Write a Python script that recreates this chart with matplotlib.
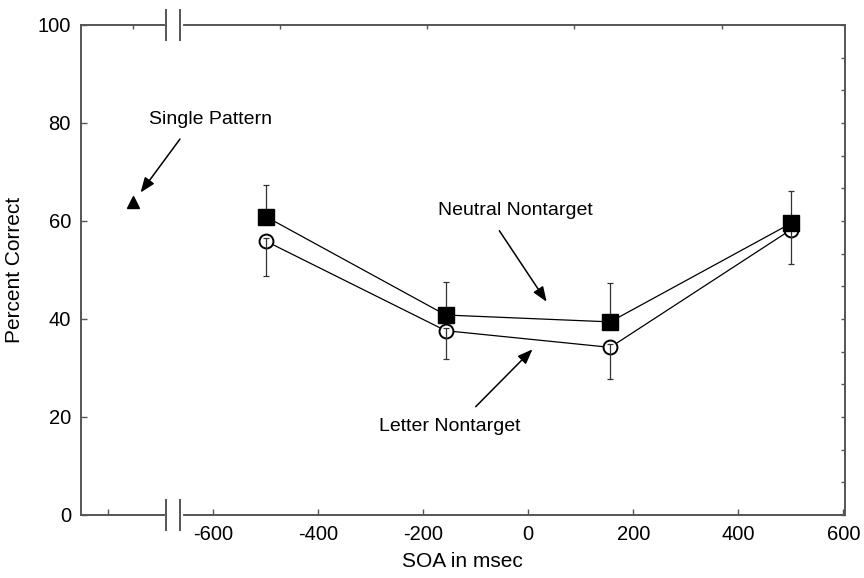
import numpy as np
import matplotlib
matplotlib.use("Agg")
import matplotlib.pyplot as plt
from matplotlib import transforms

plt.rcParams['font.family'] = ['Liberation Sans', 'DejaVu Sans']

# data
soa = [-500, -157, 156, 500]
neutral = [60.9, 40.8, 39.4, 59.5]
neutral_err = [6.4, 6.8, 7.9, 6.6]
letter = [55.9, 37.6, 34.2, 58.2]
letter_err = [7.1, 5.7, 6.5, 7.0]
single_x = [-752]
single_y = [63.9]

xticks = [-800, -600, -400, -200, 0, 200, 400, 600]
xticklabels = ['', '-600', '-400', '-200', '0', '200', '400', '600']
yticks = [0, 20, 40, 60, 80, 100]

spine_col = '#555555'

fig = plt.figure(figsize=(8.64, 5.78), dpi=100)
ax = fig.add_axes([0.0934, 0.109, 0.8846, 0.848])

# connecting lines
ax.plot(soa, neutral, color='black', lw=0.9, zorder=2)
ax.plot(soa, letter, color='black', lw=0.9, zorder=2)

# letter nontarget: open circles, error bars downward
ax.plot(soa, letter, 'o', ms=10, mfc='white', mec='black', mew=1.4, zorder=3)
ax.errorbar(soa, letter, yerr=[letter_err, [0.6] * len(letter)], fmt='none',
            ecolor='#333333', elinewidth=0.9, capsize=2.3, capthick=0.9, zorder=4)

# neutral nontarget: filled squares, error bars upward
ax.errorbar(soa, neutral, yerr=[[0] * len(neutral), neutral_err], fmt='none',
            ecolor='#333333', elinewidth=0.9, capsize=2.3, capthick=0.9, zorder=4)
ax.plot(soa, neutral, 's', ms=11, color='black', zorder=5)

# single pattern
ax.plot(single_x, single_y, '^', ms=9, color='black', zorder=5)

arrow = dict(arrowstyle='-|>,head_length=0.9,head_width=0.35', color='black',
             lw=1.1, shrinkA=0, shrinkB=0)
ax.annotate('', xy=(-738, 65.8), xytext=(-663, 76.7), arrowprops=arrow)
ax.text(-604, 80.6, 'Single Pattern', fontsize=14, ha='center', va='center')
ax.annotate('', xy=(35, 43.5), xytext=(-55, 58.0), arrowprops=arrow)
ax.text(-25, 62.2, 'Neutral Nontarget', fontsize=14, ha='center', va='center')
ax.annotate('', xy=(8, 33.8), xytext=(-100, 22.1), arrowprops=arrow)
ax.text(-149, 18.0, 'Letter Nontarget', fontsize=14, ha='center', va='center')

ax.set_xlim(-852, 603)
ax.set_ylim(0, 100)
ax.set_xticks(xticks)
ax.set_xticklabels(xticklabels)
ax.set_yticks(yticks)
ax.tick_params(direction='in', length=4, width=1, color=spine_col,
               labelsize=14.5, pad=7)
for s in ax.spines.values():
    s.set_color(spine_col)
    s.set_linewidth(1.4)

# right / top minor ticks
ax_r = ax.twinx()
ax_r.set_ylim(0, 100)
ax_r.set_yticks(np.linspace(0, 100, 16))
ax_r.tick_params(direction='in', length=3, width=1, color=spine_col, labelright=False)
ax_t = ax.twiny()
ax_t.set_xlim(ax.get_xlim())
ax_t.set_xticks([-752, -472, -192, 88, 368])
ax_t.tick_params(direction='in', length=3, width=1, color=spine_col, labeltop=False)
for a in (ax_r, ax_t):
    for s in a.spines.values():
        s.set_visible(False)

# axis break marks
trans = transforms.blended_transform_factory(ax.transData, ax.transAxes)
for yb in (0, 1):
    ax.plot([-688, -662], [yb, yb], color='white', lw=3, transform=trans,
            clip_on=False, zorder=10)
    for xb in (-689, -663):
        ax.plot([xb, xb], [yb - 0.031, yb + 0.031], color=spine_col, lw=1.4,
                transform=trans, clip_on=False, zorder=11)

ax.set_xlabel('SOA in msec', fontsize=15, labelpad=6)
ax.set_ylabel('Percent Correct', fontsize=15, labelpad=10)

fig.savefig('out.png', dpi=100)
